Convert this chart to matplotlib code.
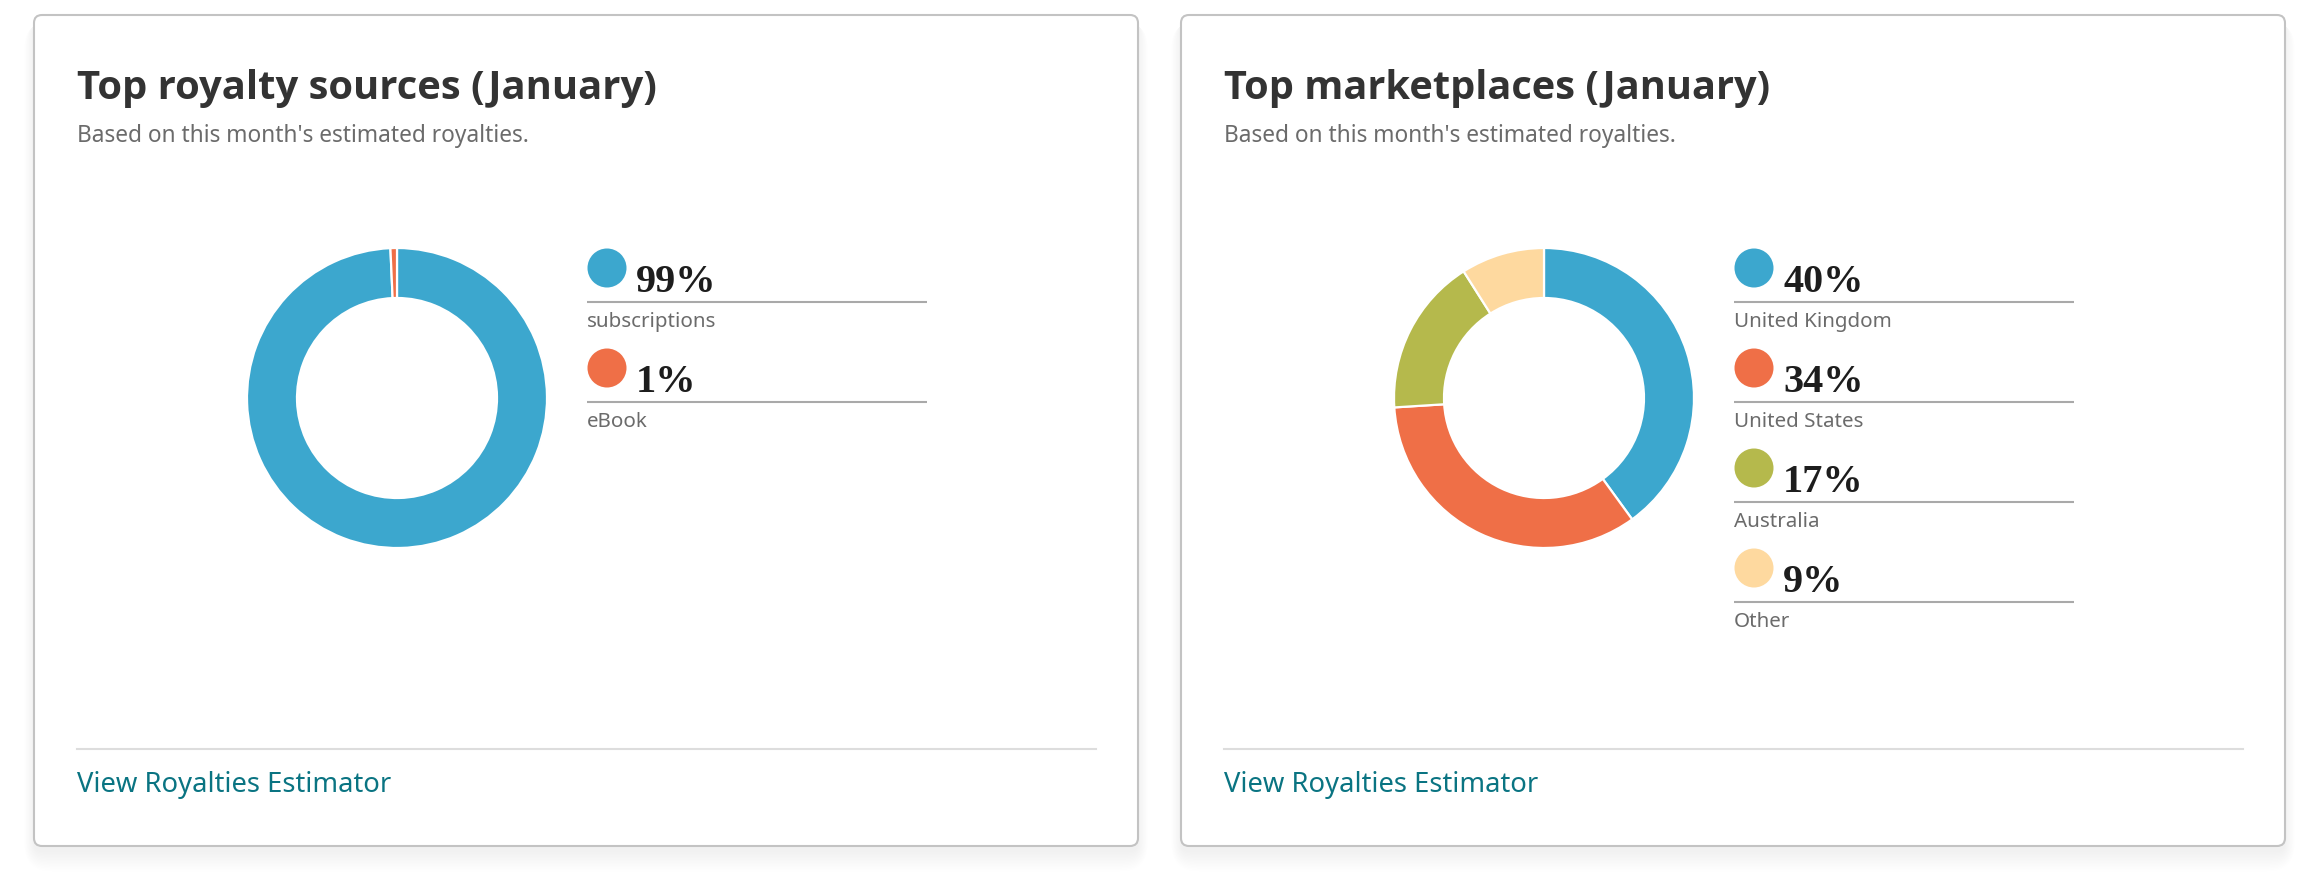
import matplotlib
matplotlib.use("Agg")
import matplotlib.pyplot as plt
from matplotlib.patches import FancyBboxPatch, Circle

# ---- data ----
titles = ["Top royalty sources (January)", "Top marketplaces (January)"]
subtitle = "Based on this month's estimated royalties."
link_text = "View Royalties Estimator"

source_labels = ["subscriptions", "eBook"]
source_shares = [99.3, 0.7]

market_labels = ["United Kingdom", "United States", "Australia", "Other"]
market_shares = [40, 34, 17, 9]

source_colors = ["#3CA7CE", "#EF6F47"]
market_colors = ["#3CA7CE", "#EF6F47", "#B5B94C", "#FED99F"]

W, H = 2312, 874
fig = plt.figure(figsize=(W / 100, H / 100), dpi=100)
fig.patch.set_facecolor("white")
ax = fig.add_axes([0, 0, 1, 1])
ax.set_xlim(0, W)
ax.set_ylim(H, 0)
ax.axis("off")

SANS = ["Noto Sans", "DejaVu Sans"]
BOLD = ["Open Sans", "Roboto", "DejaVu Sans"]
SERIF = ["Liberation Serif", "DejaVu Serif"]

renderer = fig.canvas.get_renderer()


def fit_text(x, y, s, target_w, **kw):
    t = ax.text(x, y, s, **kw)
    bb = t.get_window_extent(renderer)
    t.set_fontsize(t.get_fontsize() * target_w / bb.width)
    return t


card_x = [34, 1181]
card_y, card_w, card_h = 15, 1104, 831
title_w = [580, 546]

panels = [
    (source_labels, source_shares, source_colors),
    (market_labels, market_shares, market_colors),
]

for i, (labels, shares, colors) in enumerate(panels):
    x0 = card_x[i]
    # soft shadow
    for k in range(14):
        pad = k * 1.5
        sh = FancyBboxPatch((x0 - pad * 0.5, card_y + 6), card_w + pad, card_h + pad,
                            boxstyle="round,pad=0,rounding_size=%g" % (8 + pad),
                            fc="black", ec="none", alpha=0.004, zorder=1)
        ax.add_patch(sh)
    card = FancyBboxPatch((x0, card_y), card_w, card_h,
                          boxstyle="round,pad=0,rounding_size=8",
                          fc="white", ec="#c3c3c3", lw=1.5, zorder=2)
    ax.add_patch(card)

    left = x0 + 43
    fit_text(left, 99, titles[i], title_w[i], fontsize=27, fontweight="bold",
             color="#333333", family=BOLD, va="baseline", ha="left", zorder=5)
    fit_text(left, 142, subtitle, 454, fontsize=15, color="#6b6b6b",
             family=SANS, va="baseline", ha="left", zorder=5)

    # donut
    cx, cy = x0 + 363, 398
    ax.pie(shares, colors=colors, center=(cx, cy), radius=150, startangle=270,
           counterclock=True, frame=True,
           wedgeprops=dict(width=50, edgecolor="white", linewidth=1.6, zorder=4))

    # legend
    lx = x0 + 553
    for j, (lab, val, col) in enumerate(zip(labels, shares, colors)):
        yy = 268 + 100 * j
        ax.add_patch(Circle((lx + 20, yy), 19.5, fc=col, ec="none", zorder=5))
        ax.text(lx + 49, yy + 24, "%d%%" % round(val), fontsize=29, fontweight="bold",
                color="#1d1d1d", family=SERIF, va="baseline", ha="left", zorder=5)
        ax.plot([lx, lx + 340], [yy + 34, yy + 34], color="#a9a9a9", lw=1.5,
                solid_capstyle="butt", zorder=5)
        ax.text(lx, yy + 59, lab, fontsize=14.8, color="#6b6b6b", family=SANS,
                va="baseline", ha="left", zorder=5)

    # divider + link
    ax.plot([left, x0 + card_w - 42], [749, 749], color="#dddddd", lw=1.5, zorder=5)
    fit_text(left, 792, link_text, 314, fontsize=19, color="#0A7482",
             family=SANS, va="baseline", ha="left", zorder=5)

ax.set_xlim(0, W)
ax.set_ylim(H, 0)
ax.set_aspect("auto")
ax.axis("off")
fig.savefig("out.png", dpi=100, facecolor="white")
